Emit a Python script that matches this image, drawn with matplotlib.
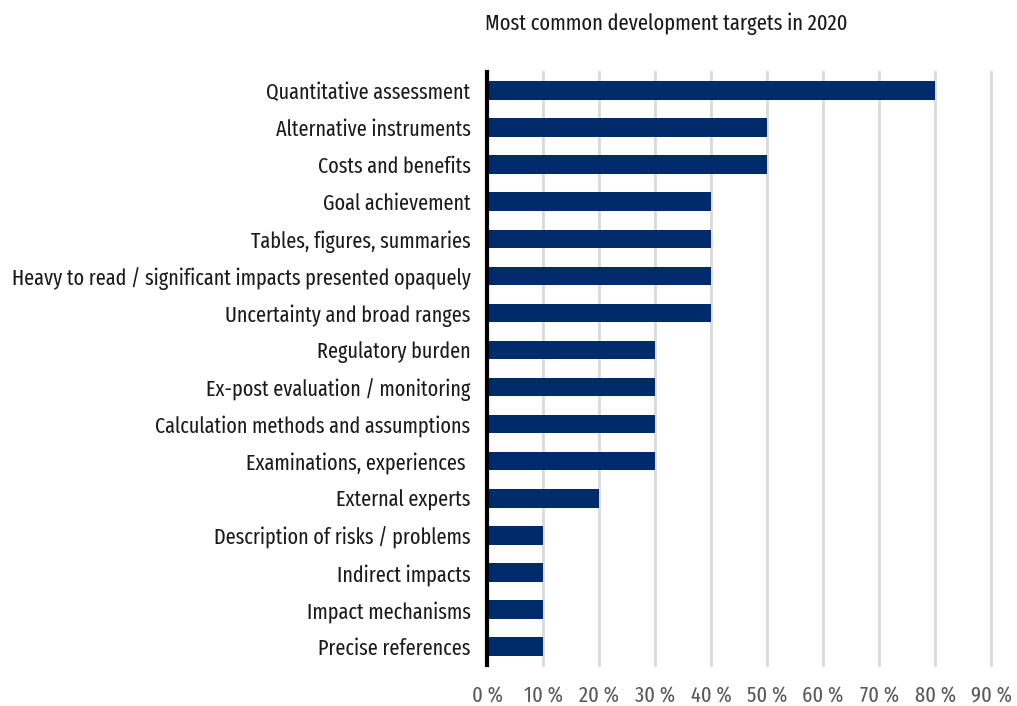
import numpy as np
import matplotlib.pyplot as plt
from matplotlib.ticker import FuncFormatter

categories = [
    "Quantitative assessment",
    "Alternative instruments",
    "Costs and benefits",
    "Goal achievement",
    "Tables, figures, summaries",
    "Heavy to read / significant impacts presented opaquely",
    "Uncertainty and broad ranges",
    "Regulatory burden",
    "Ex-post evaluation / monitoring",
    "Calculation methods and assumptions",
    "Examinations, experiences ",
    "External experts",
    "Description of risks / problems",
    "Indirect impacts",
    "Impact mechanisms",
    "Precise references",
]
shares = [0.8, 0.5, 0.5, 0.4, 0.4, 0.4, 0.4, 0.3, 0.3, 0.3, 0.3, 0.2, 0.1, 0.1, 0.1, 0.1]
ticks = [0.0, 0.1, 0.2, 0.3, 0.4, 0.5, 0.6, 0.7, 0.8, 0.9]
title = "Most common development targets in 2020"

plt.rcParams['font.family'] = ['Fira Sans Extra Condensed', 'DejaVu Sans']

fig = plt.figure(figsize=(10.17, 7.06), dpi=100)
ax = fig.add_axes([0.479, 0.058, 0.4955, 0.84])

y = np.arange(len(categories))
ax.barh(y, shares, height=0.5, color='#002b6b', zorder=3)

ax.set_ylim(len(categories) - 0.5, -0.5)
ax.set_xlim(0, 0.9)
ax.set_yticks(y)
ax.set_yticklabels(categories, fontsize=15.8, color='#1a1a1a')
ax.set_xticks(ticks)
ax.xaxis.set_major_formatter(FuncFormatter(lambda v, _: f"{v*100:.0f} %"))
ax.tick_params(axis='x', labelsize=16, labelcolor='#595959', length=0, pad=15)
ax.tick_params(axis='y', length=0, pad=12)

ax.grid(axis='x', color='#d9d9d9', linewidth=2, zorder=0, clip_on=False)
for s in ['top', 'right', 'bottom']:
    ax.spines[s].set_visible(False)
ax.spines['left'].set_linewidth(3)
ax.spines['left'].set_color('black')
ax.spines['left'].set_zorder(4)

fig.text(0.655, 0.967, title, ha='center', va='center', fontsize=16, color='#1a1a1a')

fig.savefig('out.png', dpi=100)
